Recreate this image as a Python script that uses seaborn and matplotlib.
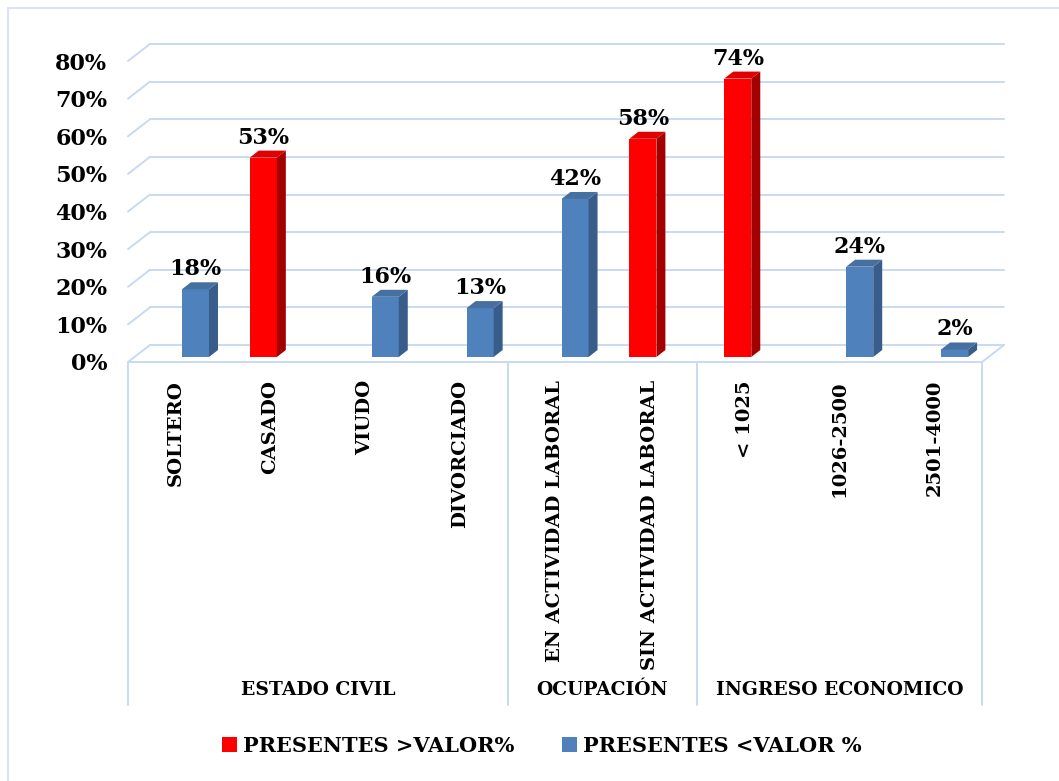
import numpy as np
import pandas as pd
import matplotlib
matplotlib.use("Agg")
import matplotlib.pyplot as plt
import seaborn as sns
from matplotlib.patches import Polygon, Rectangle
from matplotlib.lines import Line2D
from matplotlib.transforms import ScaledTranslation, blended_transform_factory

# --- datos ---
categorias = ["SOLTERO", "CASADO", "VIUDO", "DIVORCIADO",
              "EN ACTIVIDAD LABORAL", "SIN ACTIVIDAD LABORAL",
              "< 1025", "1026-2500", "2501-4000"]
grupos = ["ESTADO CIVIL", "OCUPACIÓN", "INGRESO ECONOMICO"]
grupo_tamano = [4, 2, 3]
series = ["PRESENTES >VALOR%", "PRESENTES <VALOR %"]
valores_mayor = [None, 0.53, None, None, None, 0.58, 0.74, None, None]
valores_menor = [0.18, None, 0.16, 0.13, 0.42, None, None, 0.24, 0.02]
yticks = [0.0, 0.1, 0.2, 0.3, 0.4, 0.5, 0.6, 0.7, 0.8]

colores = {series[0]: "#FF0000", series[1]: "#4F81BD"}
lado = {series[0]: "#A30000", series[1]: "#385D8A"}
tapa = {series[0]: "#E00000", series[1]: "#46709F"}
GRID = "#C8DAF0"

rows = []
for cat, a, b in zip(categorias, valores_mayor, valores_menor):
    if a is not None:
        rows.append({"cat": cat, "serie": series[0], "valor": a})
    if b is not None:
        rows.append({"cat": cat, "serie": series[1], "valor": b})
df = pd.DataFrame(rows)

sns.set_theme(style="white")
plt.rcParams["font.family"] = ["DejaVu Serif"]
plt.rcParams["font.weight"] = "bold"
plt.rcParams["text.color"] = "black"
plt.rcParams["xtick.color"] = "black"
plt.rcParams["ytick.color"] = "black"

W, H, DPI = 1059, 781, 100
fig = plt.figure(figsize=(W / DPI, H / DPI), dpi=DPI)
# front floor from x=128..982 px, y=362 px; 80% at 61 px
ax = fig.add_axes([128 / W, (H - 362) / H, 854 / W, 301 / H])

sns.barplot(data=df, x="cat", y="valor", hue="serie", order=categorias,
            hue_order=series, palette=colores, width=0.57, dodge=True,
            saturation=1, errorbar=None, legend=False, ax=ax, linewidth=0)

xlo, xhi = -0.5, len(categorias) - 0.5
ax.set_xlim(xlo, xhi)
ax.set_ylim(0, 0.8)
for s in ax.spines.values():
    s.set_visible(False)

px_x = 854 / (xhi - xlo)
px_y = 301 / 0.8
# back wall depth
DX, DY = 22 / px_x, 17 / px_y
# bar depth
BX, BY = 9 / px_x, 7 / px_y

# walls / grid
for v in yticks:
    ax.plot([xlo + DX, xhi + DX], [v + DY, v + DY], color=GRID, lw=1.4,
            clip_on=False, zorder=0)
    ax.plot([xlo, xlo + DX], [v, v + DY], color=GRID, lw=1.4,
            clip_on=False, zorder=0)
ax.plot([xlo, xhi], [0, 0], color=GRID, lw=1.4, clip_on=False, zorder=0)
ax.plot([xhi, xhi + DX], [0, DY], color=GRID, lw=1.4, clip_on=False, zorder=0)

# bars pushed a bit back on the floor
shift = ax.transData + ScaledTranslation(6.5 / DPI, 5 / DPI, fig.dpi_scale_trans)
for cont, s in zip(ax.containers, series):
    for p in cont:
        h = p.get_height()
        if not np.isfinite(h) or h <= 0:
            continue
        p.set_transform(shift)
        p.set_zorder(3)
        x0, x1 = p.get_x(), p.get_x() + p.get_width()
        ax.add_patch(Polygon([(x1, 0), (x1, h), (x1 + BX, h + BY), (x1 + BX, BY)],
                             closed=True, facecolor=lado[s], edgecolor="none",
                             transform=shift, zorder=3, clip_on=False))
        ax.add_patch(Polygon([(x0, h), (x1, h), (x1 + BX, h + BY), (x0 + BX, h + BY)],
                             closed=True, facecolor=tapa[s], edgecolor="none",
                             transform=shift, zorder=3, clip_on=False))
        ax.text((x0 + x1) / 2, h + BY + 7 / px_y, f"{h:.0%}", transform=shift,
                ha="center", va="baseline", fontsize=16, fontweight="bold",
                color="black", clip_on=False)

# axis ticks
ax.set_yticks(yticks)
ax.set_yticklabels([f"{v:.0%}" for v in yticks], fontsize=16, fontweight="bold")
ax.set_xticks(range(len(categorias)))
ax.set_xticklabels(categorias, rotation=90, fontsize=14, fontweight="bold",
                   va="top", ha="center")
ax.tick_params(axis="y", length=0, pad=15)
ax.tick_params(axis="x", length=0, pad=13)
ax.set_xlabel("")
ax.set_ylabel("")

# group separators and group labels
xt = ax.get_xaxis_transform()
bot = (362 - 705) / 301
pos = xlo
ax.plot([pos, pos], [0, bot], color=GRID, lw=1.4, transform=xt, clip_on=False)
gt = blended_transform_factory(ax.transData, fig.transFigure)
for g, n in zip(grupos, grupo_tamano):
    ax.text(pos + n / 2, (H - 690) / H, g, transform=gt, ha="center",
            va="center", fontsize=13.5, fontweight="bold")
    pos += n
    ax.plot([pos, pos], [0, bot], color=GRID, lw=1.4, transform=xt, clip_on=False)

# legend
handles = [Rectangle((0, 0), 1, 1, facecolor=colores[s], edgecolor="none") for s in series]
fig.legend(handles, series, loc="center", bbox_to_anchor=(542 / W, (H - 746) / H),
           ncol=2, frameon=False, prop={"size": 15, "weight": "bold"},
           handlelength=0.7, handleheight=0.7, handletextpad=0.3,
           columnspacing=2.3)

# outer chart border (only top/left visible)
fig.add_artist(Line2D([8 / W, 8 / W], [0, (H - 8) / H], color="#D5E0F0", lw=1.3))
fig.add_artist(Line2D([8 / W, 1], [(H - 8) / H, (H - 8) / H], color="#D5E0F0", lw=1.3))

fig.savefig("out.png", dpi=DPI)
